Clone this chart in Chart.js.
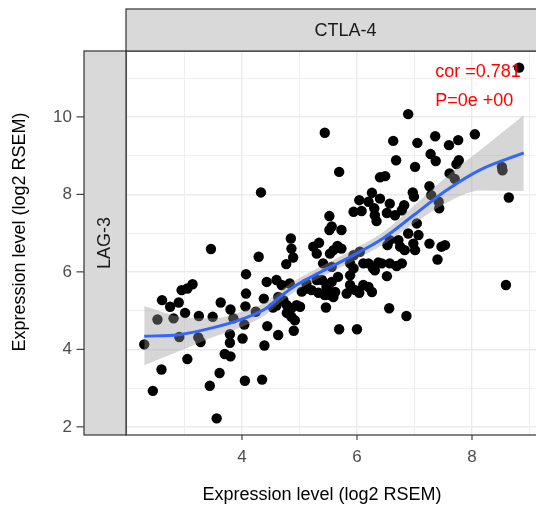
<!DOCTYPE html>
<html>
<head>
<meta charset="utf-8">
<script src="https://cdn.jsdelivr.net/npm/chart.js@4.4.1/dist/chart.umd.min.js"></script>
<style>
  html, body { margin: 0; padding: 0; background: #fff; }
  #wrap { width: 536px; height: 509px; }
</style>
</head>
<body>
<div id="wrap"><canvas id="corChart" width="536" height="509"></canvas></div>
<script>
// CTLA-4 (x) vs LAG-3 (y) expression, log2 RSEM
const ctla4 = [
  2.30, 2.45, 2.53, 2.60, 2.61, 2.75, 2.81, 2.90, 2.91, 2.95, 3.01, 3.05, 3.05, 3.14, 3.24, 3.25,
  3.28, 3.44, 3.46, 3.49, 3.56, 3.61, 3.63, 3.70, 3.79, 3.79, 3.80, 3.80, 3.85, 4.01, 4.04, 4.05,
  4.06, 4.07, 4.07, 4.24, 4.29, 4.33, 4.35, 4.38, 4.39, 4.43, 4.44, 4.54, 4.60, 4.60, 4.63, 4.63,
  4.69, 4.72, 4.77, 4.78, 4.78, 4.83, 4.85, 4.86, 4.86, 4.86, 4.89, 4.90, 4.92, 4.95, 5.01, 5.04,
  5.12, 5.13, 5.21, 5.24, 5.30, 5.30, 5.33, 5.34, 5.39, 5.41, 5.44, 5.44, 5.46, 5.47, 5.50, 5.52,
  5.56, 5.52, 5.73, 5.53, 5.53, 5.56, 5.56, 5.59, 5.59, 5.62, 5.66, 5.67, 5.69, 5.69, 5.73, 5.82,
  5.88, 5.88, 5.88, 5.94, 5.94, 5.94, 5.97, 6.00, 6.04, 6.04, 6.05, 6.08, 6.11, 6.11, 6.20, 6.26,
  6.20, 6.20, 6.26, 6.28, 6.30, 6.31, 6.31, 6.34, 6.37, 6.40, 6.40, 6.43, 6.49, 6.52, 6.52, 6.53,
  6.56, 6.57, 6.57, 6.57, 6.63, 6.66, 6.69, 6.68, 6.72, 6.75, 6.78, 6.78, 6.82, 6.83, 6.86, 6.89,
  6.89, 6.97, 6.98, 6.99, 7.01, 7.01, 7.04, 7.05, 7.07, 7.26, 7.26, 7.28, 7.29, 7.36, 7.37, 7.40,
  7.42, 7.43, 7.47, 7.53, 7.60, 7.61, 7.70, 7.73, 7.76, 7.77, 8.05, 8.52, 8.53, 8.59, 8.64, 8.82
];
const lag3 = [
  4.13, 2.93, 4.77, 3.48, 5.27, 5.10, 4.80, 5.21, 4.32, 5.53, 4.94, 5.57, 3.75, 5.68, 4.31, 4.86,
  4.19, 3.06, 6.59, 4.84, 2.22, 3.39, 5.21, 3.88, 4.39, 4.17, 5.03, 3.82, 4.80, 4.28, 4.64, 3.19,
  5.11, 5.44, 5.94, 4.97, 6.39, 8.05, 3.22, 5.31, 4.10, 5.74, 4.60, 5.08, 5.79, 5.13, 4.37, 5.35,
  5.66, 5.27, 6.20, 5.14, 4.94, 5.70, 6.86, 6.60, 5.06, 4.84, 6.37, 4.48, 4.75, 5.14, 5.10, 5.49,
  5.70, 5.57, 5.53, 6.65, 5.79, 6.47, 5.46, 6.75, 5.79, 6.22, 9.59, 5.40, 5.08, 5.61, 5.57, 7.44,
  7.17, 7.08, 7.08, 6.47, 5.40, 5.74, 6.13, 6.56, 5.35, 5.48, 6.67, 5.87, 8.58, 4.52, 6.60, 5.44,
  6.22, 5.91, 5.66, 6.09, 7.55, 6.43, 5.53, 4.52, 7.85, 5.46, 6.52, 7.57, 5.66, 6.22, 5.61, 5.48,
  6.22, 7.81, 8.04, 6.09, 7.64, 7.46, 6.04, 7.31, 6.24, 8.44, 7.89, 6.22, 8.47, 7.52, 5.89, 6.69,
  5.06, 7.76, 6.82, 6.22, 9.38, 7.46, 6.15, 8.88, 6.82, 6.65, 7.59, 6.22, 7.72, 6.56, 4.86, 10.07,
  6.99, 8.05, 6.73, 7.94, 8.71, 6.56, 7.25, 9.33, 6.95, 8.21, 6.73, 9.04, 7.98, 9.50, 8.86, 6.32,
  7.81, 7.64, 6.65, 6.69, 9.27, 8.54, 8.40, 8.78, 9.40, 8.88, 9.55, 8.71, 8.62, 5.66, 7.92, 11.27
];

// loess fit and its confidence band
const fitX     = [2.30, 2.90, 3.50, 4.00, 4.40, 4.70, 4.95, 5.35, 5.90, 6.45, 7.00, 7.55, 8.15, 8.90];
const fitY     = [4.34, 4.38, 4.56, 4.78, 5.04, 5.40, 5.66, 5.98, 6.40, 6.86, 7.48, 8.10, 8.64, 9.07];
const fitUpper = [5.12, 4.85, 4.80, 4.98, 5.20, 5.55, 5.80, 6.12, 6.55, 7.02, 7.72, 8.45, 9.15, 10.04];
const fitLower = [3.59, 3.95, 4.32, 4.58, 4.88, 5.25, 5.52, 5.84, 6.25, 6.70, 7.26, 7.78, 8.10, 8.09];

const labelledTicks = [2, 4, 6, 8, 10];
const stripTopLabel = "CTLA-4";
const stripLeftLabel = "LAG-3";
const axisTitle = "Expression level (log2 RSEM)";
const corLabel = "cor =0.781";
const pLabel = "P=0e +00";

const FONT = "'Liberation Sans', Arial, Helvetica, sans-serif";

function toPoints(xs, ys) {
  return xs.map((v, i) => ({ x: v, y: ys[i] }));
}

// strips, border, ticks, titles and the cor/P labels (ggplot facet look)
const facetDecor = {
  id: "facetDecor",
  beforeDraw: (chart) => {
    const { ctx, width, height } = chart;
    ctx.save();
    ctx.fillStyle = "#ffffff";
    ctx.fillRect(0, 0, width, height);
    ctx.restore();
  },
  afterDraw: (chart) => {
    const { ctx, chartArea: a, scales } = chart;
    const x = scales.x;
    const y = scales.y;
    const fullRight = x.getPixelForValue(9.65);

    ctx.save();
    ctx.lineWidth = 1.2;
    ctx.strokeStyle = "#333333";

    // panel border
    ctx.strokeRect(a.left, a.top, fullRight - a.left, a.bottom - a.top);

    // top strip
    ctx.fillStyle = "#d9d9d9";
    ctx.fillRect(a.left, 9, fullRight - a.left, a.top - 9);
    ctx.strokeRect(a.left, 9, fullRight - a.left, a.top - 9);
    // left strip
    ctx.fillRect(84, a.top, a.left - 84, a.bottom - a.top);
    ctx.strokeRect(84, a.top, a.left - 84, a.bottom - a.top);

    ctx.fillStyle = "#1a1a1a";
    ctx.font = "18px " + FONT;
    ctx.textAlign = "center";
    ctx.textBaseline = "middle";
    ctx.fillText(stripTopLabel, (a.left + fullRight) / 2 - 1, (9 + a.top) / 2 + 1);
    ctx.save();
    ctx.translate((84 + a.left) / 2, (a.top + a.bottom) / 2);
    ctx.rotate(-Math.PI / 2);
    ctx.fillText(stripLeftLabel, 0, 0);
    ctx.restore();

    // tick marks
    ctx.lineWidth = 1.1;
    labelledTicks.forEach((v) => {
      const py = y.getPixelForValue(v);
      ctx.beginPath();
      ctx.moveTo(76.5, py);
      ctx.lineTo(84, py);
      ctx.stroke();
      const px = x.getPixelForValue(v);
      if (px > a.left + 2) {
        ctx.beginPath();
        ctx.moveTo(px, a.bottom);
        ctx.lineTo(px, a.bottom + 5);
        ctx.stroke();
      }
    });

    // axis titles
    ctx.fillStyle = "#000000";
    ctx.font = "18px " + FONT;
    ctx.fillText(axisTitle, 322, 495);
    ctx.save();
    ctx.translate(20, 232);
    ctx.rotate(-Math.PI / 2);
    ctx.fillText(axisTitle, 0, 0);
    ctx.restore();

    // correlation text
    ctx.fillStyle = "#ff0000";
    ctx.textAlign = "left";
    ctx.fillText(corLabel, x.getPixelForValue(7.36), y.getPixelForValue(11.17));
    ctx.fillText(pLabel, x.getPixelForValue(7.36), y.getPixelForValue(10.42));
    ctx.restore();
  },
};

const gridWidth = (c) => (c.tick && labelledTicks.includes(c.tick.value) ? 1.4 : 0.8);
const tickFont = { family: FONT, size: 17 };

new Chart(document.getElementById("corChart"), {
  type: "scatter",
  data: {
    datasets: [
      {
        type: "line",
        label: "fit",
        data: toPoints(fitX, fitY),
        borderColor: "#3366FF",
        borderWidth: 3,
        pointRadius: 0,
        fill: false,
        cubicInterpolationMode: "monotone",
        order: 0,
      },
      {
        type: "line",
        label: "upper",
        data: toPoints(fitX, fitUpper),
        borderColor: "rgba(0,0,0,0)",
        borderWidth: 1,
        pointRadius: 0,
        backgroundColor: "rgba(153,153,153,0.4)",
        fill: 2,
        cubicInterpolationMode: "monotone",
        order: 1,
      },
      {
        type: "line",
        label: "lower",
        data: toPoints(fitX, fitLower),
        borderColor: "rgba(0,0,0,0)",
        borderWidth: 1,
        pointRadius: 0,
        fill: false,
        cubicInterpolationMode: "monotone",
        order: 1,
      },
      {
        label: "samples",
        data: toPoints(ctla4, lag3),
        backgroundColor: "#000000",
        borderWidth: 0,
        pointRadius: 5.2,
        order: 2,
      },
    ],
  },
  options: {
    responsive: false,
    animation: false,
    events: [],
    layout: { autoPadding: false, padding: { top: 51, right: 0, bottom: 0, left: 0 } },
    plugins: { legend: { display: false }, tooltip: { enabled: false } },
    scales: {
      x: {
        type: "linear",
        min: 1.983,
        max: 9.113,
        afterFit: (s) => {
          s.height = 74;
          s.paddingLeft = 0;
          s.paddingRight = 0;
        },
        border: { display: false },
        grid: { color: "#ebebeb", lineWidth: gridWidth, drawTicks: false },
        ticks: {
          stepSize: 1,
          includeBounds: false,
          autoSkip: false,
          maxRotation: 0,
          padding: 12,
          color: "#4d4d4d",
          font: tickFont,
          callback: (v) => (v !== 2 && labelledTicks.includes(v) ? String(v) : ""),
        },
      },
      y: {
        type: "linear",
        min: 1.79,
        max: 11.7,
        afterFit: (s) => {
          s.width = 126;
          s.paddingTop = 0;
          s.paddingBottom = 0;
        },
        border: { display: false },
        grid: { color: "#ebebeb", lineWidth: gridWidth, drawTicks: false },
        ticks: {
          stepSize: 1,
          includeBounds: false,
          autoSkip: false,
          padding: 54,
          color: "#4d4d4d",
          font: tickFont,
          callback: (v) => (labelledTicks.includes(v) ? String(v) : ""),
        },
      },
    },
  },
  plugins: [facetDecor],
});
</script>
</body>
</html>
